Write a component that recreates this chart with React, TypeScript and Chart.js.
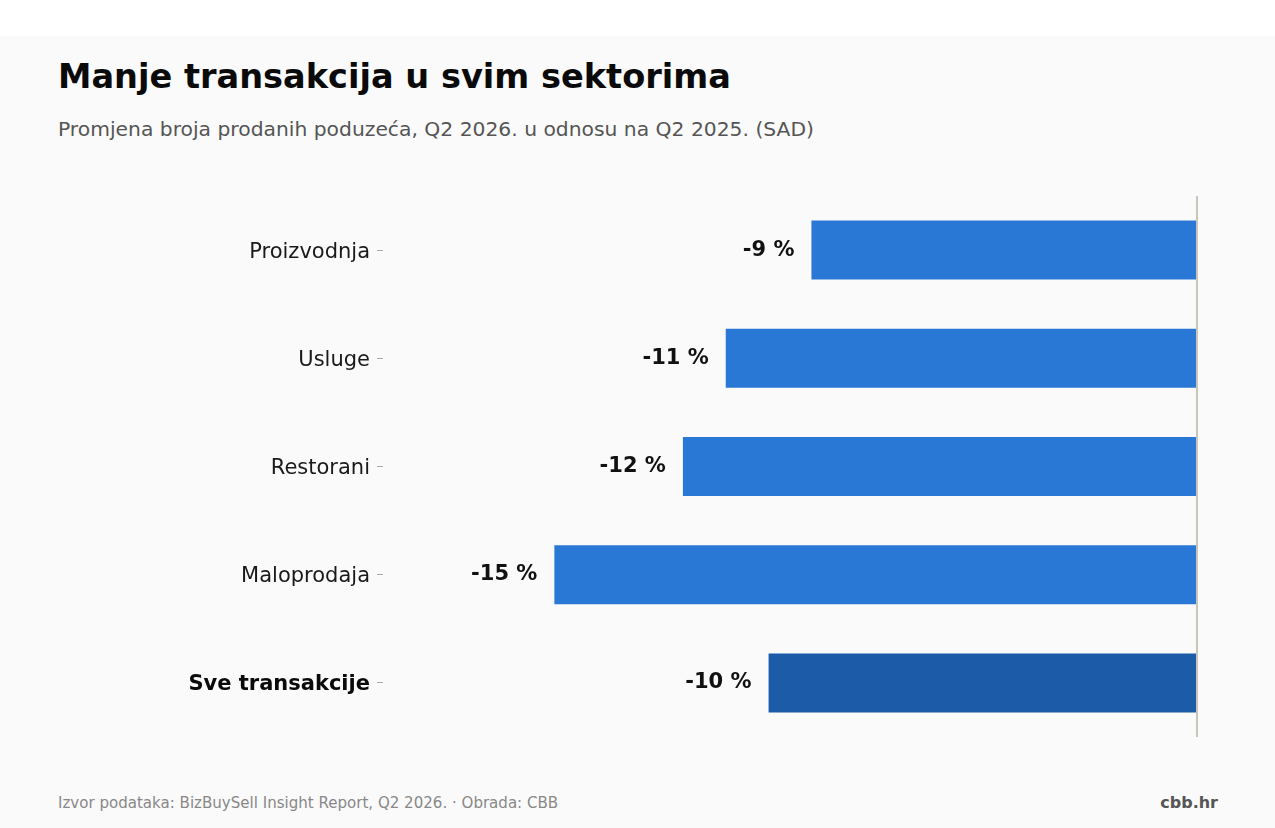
import React, { useEffect, useRef } from 'react';
import { Chart, registerables } from 'chart.js';

Chart.register(...registerables);

const categories = ['Proizvodnja', 'Usluge', 'Restorani', 'Maloprodaja', 'Sve transakcije'];
const changes = [-9, -11, -12, -15, -10];
const barColors = ['#2a78d6', '#2a78d6', '#2a78d6', '#2a78d6', '#1b5ba8'];

const FONT = '"DejaVu Sans", Verdana, sans-serif';

// draws "-9 %" etc. just left of each bar's end
const valueLabels = {
    id: 'valueLabels',
    afterDatasetsDraw(chart: Chart) {
        const ctx = chart.ctx;
        const meta = chart.getDatasetMeta(0);
        ctx.save();
        ctx.font = `bold 21px ${FONT}`;
        ctx.fillStyle = '#111111';
        ctx.textAlign = 'right';
        ctx.textBaseline = 'middle';
        meta.data.forEach((bar: any, i: number) => {
            ctx.fillText(`${changes[i]} %`, bar.x - 17, bar.y);
        });
        ctx.restore();
    },
};

const App: React.FC = () => {
    const canvasRef = useRef<HTMLCanvasElement>(null);

    useEffect(() => {
        document.body.style.margin = '0';
        if (!canvasRef.current) return;
        const chart = new Chart(canvasRef.current, {
            type: 'bar',
            data: {
                labels: categories,
                datasets: [{
                    data: changes,
                    backgroundColor: barColors,
                    borderWidth: 0,
                    categoryPercentage: 1,
                    barPercentage: 0.545,
                }],
            },
            options: {
                indexAxis: 'y',
                animation: false,
                responsive: false,
                maintainAspectRatio: false,
                layout: { padding: { top: 36, bottom: 23, right: 78, left: 0 } },
                plugins: {
                    legend: { display: false },
                    tooltip: { enabled: false },
                    title: { display: false },
                },
                scales: {
                    x: {
                        min: -19,
                        max: 0,
                        ticks: { display: false, stepSize: 1 },
                        border: { display: false },
                        grid: {
                            drawTicks: false,
                            tickLength: 0,
                            lineWidth: 2,
                            color: (c: any) => (c.tick && c.tick.value === 0 ? '#c9c5bd' : 'rgba(0,0,0,0)'),
                        },
                    },
                    y: {
                        afterFit: (scale: any) => { scale.width = 383; },
                        border: { display: false },
                        grid: {
                            offset: false,
                            drawOnChartArea: false,
                            drawTicks: true,
                            tickLength: 6,
                            tickColor: '#aaaaaa',
                        },
                        ticks: {
                            padding: 7,
                            labelOffset: 2,
                            color: (c: any) => (c.index === 4 ? '#0a0a0a' : '#1a1a1a'),
                            font: (c: any) => ({
                                family: FONT,
                                size: 21,
                                weight: c.index === 4 ? 'bold' : 'normal',
                            }),
                        },
                    },
                },
            },
            plugins: [valueLabels],
        });
        return () => chart.destroy();
    }, []);

    return (
        <div style={{ position: 'relative', width: 1275, height: 828, background: '#ffffff', fontFamily: FONT }}>
            <div style={{ position: 'absolute', left: 0, top: 36, width: 1275, height: 792, background: '#fafafa' }} />
            <div style={{ position: 'absolute', left: 58, top: 60, fontSize: 33.6, lineHeight: 1, fontWeight: 'bold', color: '#0a0a0a', whiteSpace: 'nowrap' }}>
                Manje transakcija u svim sektorima
            </div>
            <div style={{ position: 'absolute', left: 58, top: 119, fontSize: 20.3, lineHeight: 1, color: '#555555', whiteSpace: 'nowrap' }}>
                Promjena broja prodanih poduzeća, Q2 2026. u odnosu na Q2 2025. (SAD)
            </div>
            <canvas ref={canvasRef} width={1275} height={600} style={{ position: 'absolute', left: 0, top: 160, width: 1275, height: 600 }} />
            <div style={{ position: 'absolute', left: 58, top: 796, fontSize: 15.05, lineHeight: 1, color: '#888888', whiteSpace: 'nowrap' }}>
                Izvor podataka: BizBuySell Insight Report, Q2 2026. · Obrada: CBB
            </div>
            <div style={{ position: 'absolute', right: 57, top: 795, fontSize: 16, lineHeight: 1, fontWeight: 'bold', color: '#555555', whiteSpace: 'nowrap' }}>
                cbb.hr
            </div>
        </div>
    );
};

export default App;
